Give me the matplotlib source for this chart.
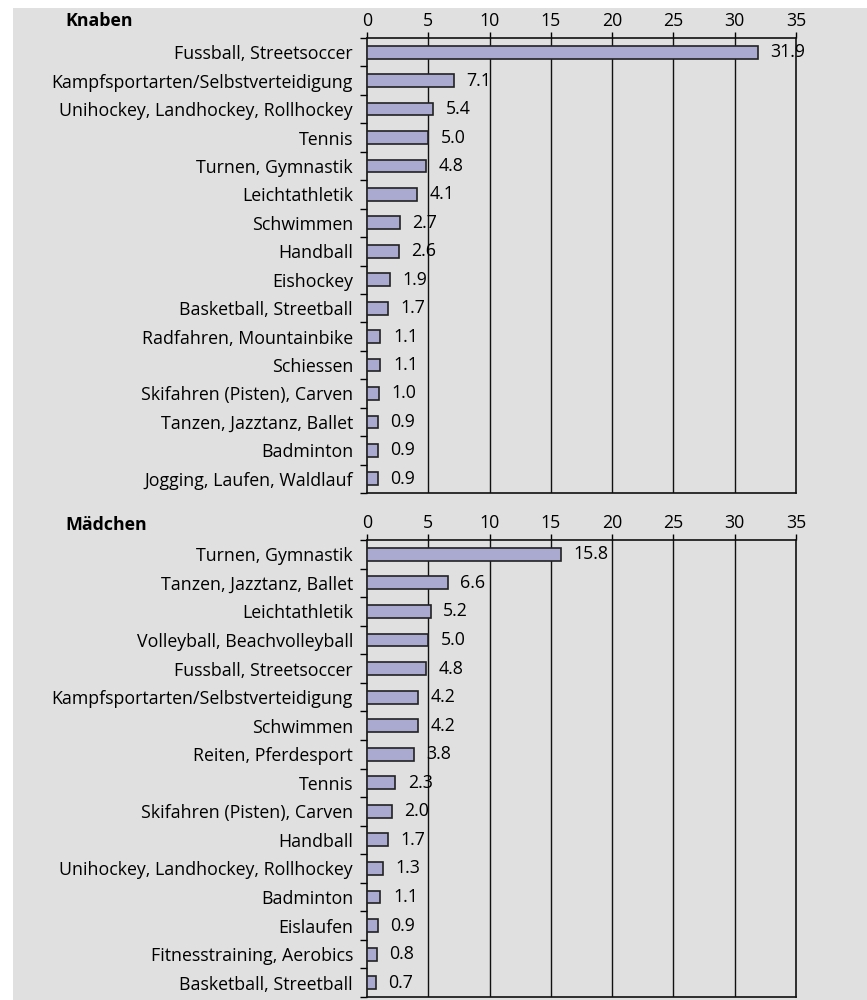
import matplotlib.pyplot as plt
from matplotlib.patches import Rectangle
from matplotlib.ticker import FixedLocator

plt.rcParams['font.family'] = ['Open Sans', 'DejaVu Sans']

# Knaben
knaben_cats = ["Fussball, Streetsoccer", "Kampfsportarten/Selbstverteidigung",
               "Unihockey, Landhockey, Rollhockey", "Tennis", "Turnen, Gymnastik",
               "Leichtathletik", "Schwimmen", "Handball", "Eishockey",
               "Basketball, Streetball", "Radfahren, Mountainbike", "Schiessen",
               "Skifahren (Pisten), Carven", "Tanzen, Jazztanz, Ballet",
               "Badminton", "Jogging, Laufen, Waldlauf"]
knaben_vals = [31.9, 7.1, 5.4, 5.0, 4.8, 4.1, 2.7, 2.6, 1.9, 1.7, 1.1, 1.1,
               1.0, 0.9, 0.9, 0.9]

# Mädchen
maedchen_cats = ["Turnen, Gymnastik", "Tanzen, Jazztanz, Ballet", "Leichtathletik",
                 "Volleyball, Beachvolleyball", "Fussball, Streetsoccer",
                 "Kampfsportarten/Selbstverteidigung", "Schwimmen",
                 "Reiten, Pferdesport", "Tennis", "Skifahren (Pisten), Carven",
                 "Handball", "Unihockey, Landhockey, Rollhockey", "Badminton",
                 "Eislaufen", "Fitnesstraining, Aerobics", "Basketball, Streetball"]
maedchen_vals = [15.8, 6.6, 5.2, 5.0, 4.8, 4.2, 4.2, 3.8, 2.3, 2.0, 1.7, 1.3,
                 1.1, 0.9, 0.8, 0.7]

x_ticks = [0, 5, 10, 15, 20, 25, 30, 35]

BG = "#e0e0e0"
BAR = "#aaaad0"
FS = 12.8

fig = plt.figure(figsize=(8.67, 10), dpi=100)
fig.patch.set_facecolor("white")
# grauer Hintergrund mit weissem Rand oben/links
fig.patches.append(Rectangle((13 / 867, 0), 1 - 13 / 867, 1 - 8 / 1000,
                             transform=fig.transFigure, facecolor=BG,
                             edgecolor="none", zorder=-10))


def draw_panel(rect, cats, vals, title, title_y):
    ax = fig.add_axes(rect)
    ax.set_facecolor(BG)
    n = len(cats)
    y = list(range(n))
    ax.barh(y, vals, height=0.45, color=BAR, edgecolor="#222222",
            linewidth=1.2, zorder=3)
    ax.set_xlim(0, 35)
    ax.set_ylim(n - 0.5, -0.5)
    ax.set_yticks(y)
    ax.set_yticklabels(cats, fontsize=FS)
    ax.yaxis.set_minor_locator(FixedLocator([i - 0.5 for i in range(n + 1)]))
    ax.tick_params(axis="y", which="major", length=0, pad=10)
    ax.tick_params(axis="y", which="minor", length=5, width=1, direction="out")
    ax.xaxis.tick_top()
    ax.set_xticks(x_ticks)
    ax.tick_params(axis="x", length=4, width=1, direction="out", pad=2,
                   labelsize=FS)
    for xv in x_ticks[1:-1]:
        ax.axvline(xv, color="#111111", linewidth=1, zorder=1)
    for s in ax.spines.values():
        s.set_color("#111111")
        s.set_linewidth(1.2)
    for yi, v in zip(y, vals):
        ax.annotate(f"{v:.1f}", (v, yi), xytext=(9, 0), textcoords="offset points",
                    ha="left", va="center", fontsize=FS, zorder=4)
    fig.text(65 / 867, title_y, title, fontsize=FS, fontweight="bold",
             ha="left", va="center")
    return ax


left = 367 / 867
width = (796 - 367) / 867
draw_panel([left, 1 - 493 / 1000, width, (493 - 38) / 1000],
           knaben_cats, knaben_vals, "Knaben", 1 - 21 / 1000)
draw_panel([left, 1 - 997 / 1000, width, (997 - 540) / 1000],
           maedchen_cats, maedchen_vals, "Mädchen", 1 - 525 / 1000)

fig.savefig("out.png", dpi=100, facecolor=fig.get_facecolor())
